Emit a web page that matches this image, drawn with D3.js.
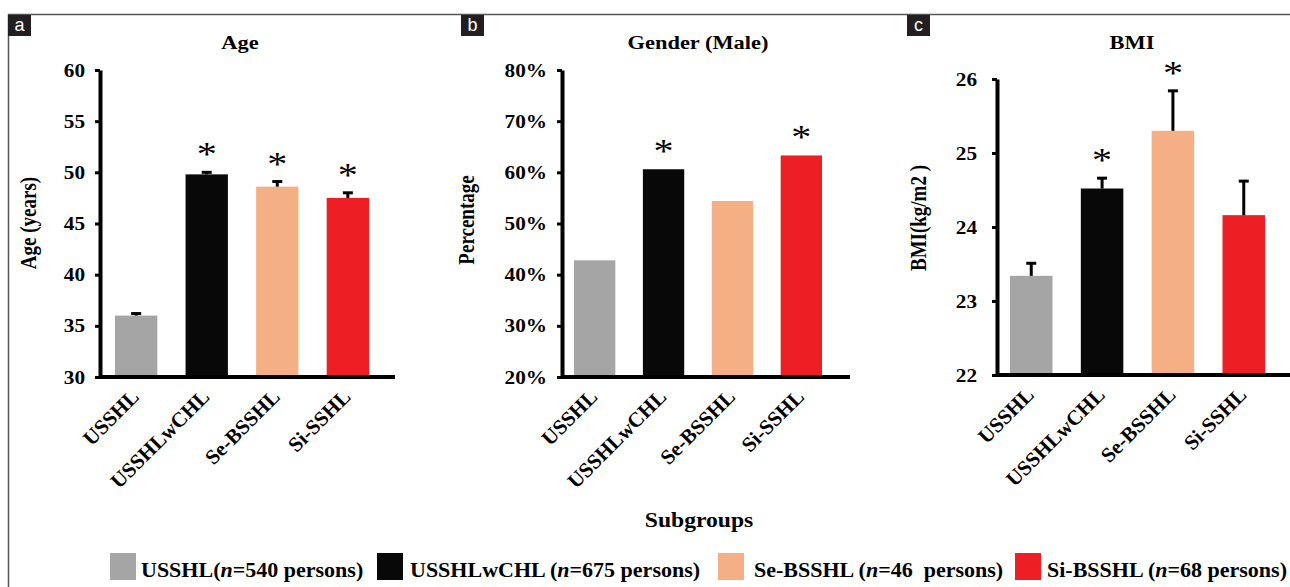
<!DOCTYPE html>
<html>
<head>
<meta charset="utf-8">
<script src="https://cdn.jsdelivr.net/npm/d3@7"></script>
<style>
  body { margin: 0; background: #fff; }
  svg { display: block; }
  text { font-family: "Liberation Serif", "Times New Roman", serif; }
</style>
</head>
<body>
<div id="chart"></div>
<script>
// groups & data
const groups = ["USSHL", "USSHLwCHL", "Se-BSSHL", "Si-SSHL"];
const colors = ["#a5a5a5", "#080808", "#f4b084", "#ed1f24"];

const ageMean = [36.0, 49.8, 48.6, 47.5];
const ageErr = [0.2, 0.2, 0.5, 0.5];
const ageStar = [false, true, true, true];
const ageTicks = [30, 35, 40, 45, 50, 55, 60];

const maleRate = [0.428, 0.606, 0.544, 0.633];
const maleStar = [false, true, false, true];
const maleTicks = [0.2, 0.3, 0.4, 0.5, 0.6, 0.7, 0.8];

const bmiMean = [23.34, 24.52, 25.30, 24.16];
const bmiErr = [0.17, 0.14, 0.54, 0.46];
const bmiStar = [false, true, true, false];
const bmiTicks = [22, 23, 24, 25, 26];

const legendNames = ["USSHL(", "USSHLwCHL (", "Se-BSSHL (", "Si-BSSHL ("];
const legendRest = ["=540 persons)", "=675 persons)", "=46  persons)", "=68 persons)"];

const W = 1290, H = 587;
const SX = 1.18; // the figure is stretched a little horizontally

const svg = d3.select("#chart").append("svg")
  .attr("width", W).attr("height", H);

// frame
svg.append("line").attr("x1", 8).attr("x2", W).attr("y1", 14.5).attr("y2", 14.5)
  .attr("stroke", "#555").attr("stroke-width", 1.5);
svg.append("line").attr("x1", 8.5).attr("x2", 8.5).attr("y1", 14).attr("y2", H)
  .attr("stroke", "#555").attr("stroke-width", 1.5);

function panel(cfg) {
  const g = svg.append("g");

  const x = d3.scaleBand().domain(groups).range(cfg.xr).paddingInner(0.4).paddingOuter(0);
  const y = d3.scaleLinear().domain(cfg.dom).range(cfg.yr);
  const base = cfg.yr[0];

  // letter box
  g.append("rect").attr("x", cfg.box).attr("y", 15).attr("width", 23).attr("height", 21)
    .attr("fill", "#231f20");
  g.append("text").attr("x", cfg.box + 11.5).attr("y", 31).attr("text-anchor", "middle")
    .attr("fill", "#fff").style("font-family", "'Liberation Sans', Arial, sans-serif")
    .style("font-size", "18px").text(cfg.letter);

  // title
  g.append("text").attr("transform", `translate(${cfg.titleX},49) scale(${SX},1)`)
    .attr("text-anchor", "middle").style("font-weight", "bold").style("font-size", "19px")
    .text(cfg.title);

  // bars
  g.selectAll("rect.bar").data(cfg.vals).join("rect").attr("class", "bar")
    .attr("x", (d, i) => x(groups[i]))
    .attr("width", x.bandwidth())
    .attr("y", d => y(d))
    .attr("height", d => base - y(d))
    .attr("fill", (d, i) => colors[i]);

  // error bars (upper only)
  if (cfg.err) {
    cfg.vals.forEach((v, i) => {
      const cx = x(groups[i]) + x.bandwidth() / 2;
      const top = y(v + cfg.err[i]);
      g.append("line").attr("x1", cx).attr("x2", cx).attr("y1", y(v)).attr("y2", top)
        .attr("stroke", "#000").attr("stroke-width", 3);
      g.append("line").attr("x1", cx - 5).attr("x2", cx + 5).attr("y1", top).attr("y2", top)
        .attr("stroke", "#000").attr("stroke-width", 3);
    });
  }

  // stars
  cfg.vals.forEach((v, i) => {
    if (!cfg.star[i]) return;
    const cx = x(groups[i]) + x.bandwidth() / 2;
    const top = y(v + (cfg.err ? cfg.err[i] : 0));
    g.append("text").attr("transform", `translate(${cx},${top - 23 + 16}) scale(${SX},1)`)
      .attr("text-anchor", "middle").style("font-size", "34px").text("*");
  });

  // y axis
  const ya = g.append("g").attr("transform", `translate(${cfg.axisX},0)`)
    .call(d3.axisLeft(y).tickValues(cfg.ticks).tickSize(5).tickSizeOuter(0).tickFormat(cfg.fmt));
  ya.select(".domain").attr("stroke-width", 4);
  ya.selectAll(".tick line").attr("stroke-width", 3);
  ya.selectAll(".tick text")
    .attr("x", null).attr("dy", null)
    .attr("transform", `translate(${-cfg.labGap},6) scale(${SX},1)`)
    .style("font-size", "18px").style("font-weight", "bold").attr("fill", "#000")
    .style("font-family", "'Liberation Serif', 'Times New Roman', serif");

  // x axis line
  g.append("line").attr("x1", cfg.axisX).attr("x2", cfg.xEnd).attr("y1", base).attr("y2", base)
    .attr("stroke", "#000").attr("stroke-width", 4);

  // x labels
  const xa = g.append("g").attr("transform", `translate(0,${base})`)
    .call(d3.axisBottom(x).tickSize(0));
  xa.select(".domain").remove();
  xa.selectAll(".tick text")
    .attr("y", null).attr("dy", null)
    .attr("text-anchor", "end")
    .attr("transform", "translate(4,21) rotate(-45)")
    .style("font-size", "21px").style("font-weight", "bold").attr("fill", "#000")
    .style("font-family", "'Liberation Serif', 'Times New Roman', serif");

  // y title
  g.append("text").attr("transform", `translate(${cfg.ytX},${cfg.ytY}) scale(${SX},1) rotate(-90)`)
    .attr("text-anchor", "middle").style("font-weight", "bold").style("font-size", "19px")
    .style("white-space", "pre").text(cfg.ytitle);
}

panel({
  letter: "a", box: 8, title: "Age", titleX: 240,
  vals: ageMean, err: ageErr, star: ageStar, ticks: ageTicks, fmt: d3.format("d"),
  dom: [30, 60], yr: [377, 70], xr: [115, 369], axisX: 100, xEnd: 395, labGap: 15,
  ytitle: "Age (years)", ytX: 36, ytY: 223
});

panel({
  letter: "b", box: 461, title: "Gender (Male)", titleX: 698,
  vals: maleRate, err: null, star: maleStar, ticks: maleTicks, fmt: d3.format(".0%"),
  dom: [0.2, 0.8], yr: [377, 70], xr: [574, 822], axisX: 562, xEnd: 850, labGap: 15,
  ytitle: "Percentage", ytX: 474, ytY: 220
});

panel({
  letter: "c", box: 907, title: "BMI", titleX: 1132,
  vals: bmiMean, err: bmiErr, star: bmiStar, ticks: bmiTicks, fmt: d3.format("d"),
  dom: [22, 26], yr: [375, 79], xr: [1010, 1265], axisX: 997, xEnd: W, labGap: 20,
  ytitle: "BMI(kg/m2 )", ytX: 926, ytY: 218
});

// shared x title
svg.append("text").attr("transform", `translate(699,527) scale(${SX},1)`)
  .attr("text-anchor", "middle").style("font-weight", "bold").style("font-size", "20px")
  .text("Subgroups");

// legend
const legendX = [110, 377, 718, 1015];
const legendGap = [31, 33, 36, 32];
groups.forEach((gname, i) => {
  const lg = svg.append("g").attr("transform", `translate(${legendX[i]},553)`);
  lg.append("rect").attr("width", 26).attr("height", 27).attr("fill", colors[i]);
  const t = lg.append("text").attr("x", legendGap[i]).attr("y", 24)
    .style("font-weight", "bold").style("font-size", "22px").style("white-space", "pre");
  t.append("tspan").text(legendNames[i]);
  t.append("tspan").style("font-style", "italic").text("n");
  t.append("tspan").text(legendRest[i]);
});
</script>
</body>
</html>
